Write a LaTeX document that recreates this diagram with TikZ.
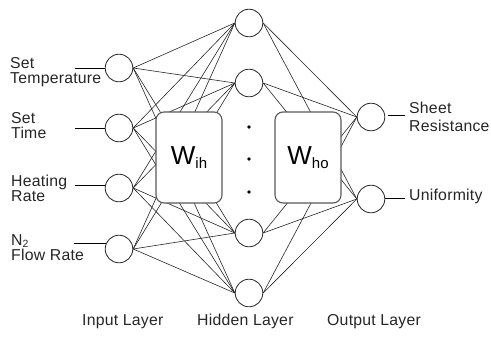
\documentclass[tikz,border=0pt]{standalone}
\usepackage{fontspec}
\setmainfont{Liberation Sans}[LetterSpace=1.5]
\begin{document}
\begin{tikzpicture}[x=1pt,y=-1pt,
  neuron/.style={circle,draw=black!85,line width=0.8pt,minimum size=27.6pt,inner sep=0pt,fill=white},
  wbox/.style={draw=black!65,line width=1.1pt,rounded corners=8pt,fill=white,
    minimum width=66pt,minimum height=91pt,inner sep=0pt},
  link/.style={line width=0.6pt,draw=black!85},
  stub/.style={line width=0.8pt,draw=black},
  lbl/.style={font=\fontsize{15.8}{14.7}\selectfont,text=black!85,inner sep=0pt,align=left,anchor=base west},
  dotmark/.style={circle,fill=black,inner sep=0pt,minimum size=3.6pt},
]
\useasboundingbox (0,0) rectangle (491,338);

% neurons
\node[neuron] (i1) at (119,68) {};
\node[neuron] (i2) at (119,128) {};
\node[neuron] (i3) at (119,188) {};
\node[neuron] (i4) at (119,249) {};
\node[neuron] (h1) at (249,23) {};
\node[neuron] (h2) at (249,83) {};
\node[neuron] (h3) at (249,233) {};
\node[neuron] (h4) at (249,293) {};
\node[neuron] (o1) at (371,117) {};
\node[neuron] (o2) at (371,199) {};

% fully connected layers
\foreach \i in {1,...,4}
  \foreach \h in {1,...,4}
    \draw[link] (i\i.east) -- (h\h.west);
\foreach \h in {1,...,4}
  \foreach \o in {1,2}
    \draw[link] (h\h.east) -- (o\o.west);

% weight blocks drawn over the connections
\node[wbox] (wih) at (189,157.5) {\fontsize{26}{26}\selectfont W\raisebox{-4pt}{\fontsize{15}{15}\selectfont ih}};
\node[wbox] (who) at (308,157.5) {\fontsize{26}{26}\selectfont W\raisebox{-4pt}{\fontsize{15}{15}\selectfont ho}};

% hidden units not shown
\node[dotmark] (d1) at (249,127) {};
\node[dotmark] (d2) at (249,159) {};
\node[dotmark] (d3) at (249,192) {};

% input and output leads
\draw[stub] (i1.west) -- ++(-30,0);
\draw[stub] (i2.west) -- ++(-30,0);
\draw[stub] (i3.170) -- ++(-30,0);
\draw[stub] (i4.155) -- ++(-32,0);
\draw[stub] (o1.east) ++(3,-1.5) -- ++(17,0);
\draw[stub] (o2.east) ++(0,-1) -- ++(20,0);

% labels (anchored at the baseline of their last line)
\node[lbl] (l1) at (10,83.3) {Set\\Temperature};
\node[lbl] (l2) at (11,138) {Set\\Time};
\node[lbl] (l3) at (11,201) {Heating\\Rate};
\node[lbl] (l4) at (11,260) {N\raisebox{-2.3pt}{\fontsize{10.5}{10.5}\selectfont 2}\\Flow Rate};
\node[lbl] (l5) at (409,131) {Sheet\\[3pt]Resistance};
\node[lbl] (l6) at (409,200) {Uniformity};
\node[lbl] (l7) at (82,325) {Input Layer};
\node[lbl] (l8) at (197,325) {Hidden Layer};
\node[lbl] (l9) at (327,325) {Output Layer};
\end{tikzpicture}
\end{document}
